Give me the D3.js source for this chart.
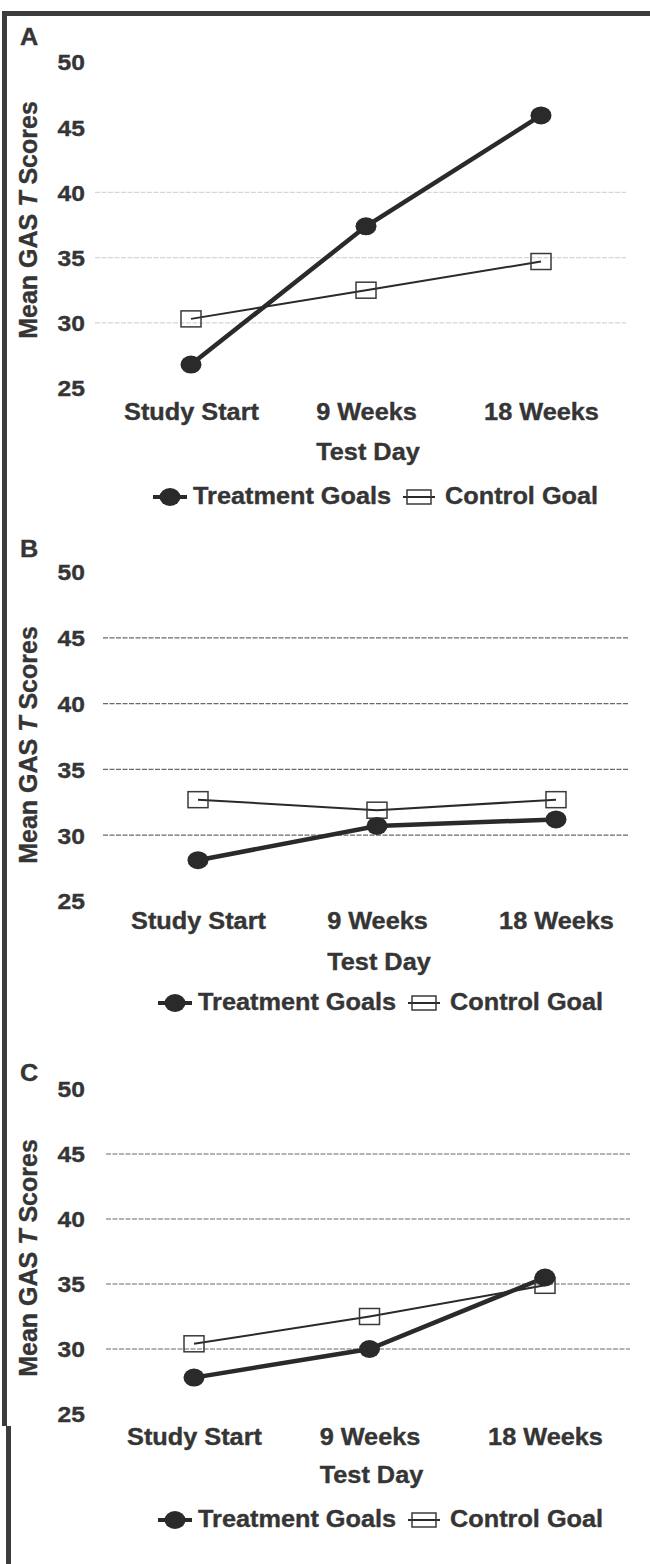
<!DOCTYPE html>
<html>
<head>
<meta charset="utf-8">
<script src="https://cdn.jsdelivr.net/npm/d3@7"></script>
<style>
  html, body { margin: 0; padding: 0; background: #fff; }
  svg { display: block; }
  text { font-family: "Liberation Sans", Arial, Helvetica, sans-serif; font-weight: bold; fill: #353535; stroke: #353535; stroke-width: 0.35px; }
</style>
</head>
<body>
<script>
// ---------------- data ----------------
const categories = ["Study Start", "9 Weeks", "18 Weeks"];
const yTicks = [25, 30, 35, 40, 45, 50];
const gridTicks = [30, 35, 40, 45];
const gridTicksA = [30, 35, 40];
const panelLetters = ["A", "B", "C"];
const seriesNames = ["Treatment Goals", "Control Goal"];
const xTitle = "Test Day";

const treatmentA = [26.8, 37.4, 45.9];
const controlA   = [30.3, 32.5, 34.7];
const treatmentB = [28.1, 30.7, 31.2];
const controlB   = [32.7, 31.9, 32.7];
const treatmentC = [27.8, 30.0, 35.5];
const controlC   = [30.4, 32.5, 34.9];

// ---------------- layout ----------------
const W = 650, H = 1564;
const ink = "#2a2a2a";
const sx = 1.1; // horizontal stretch of the scanned figure

const svg = d3.select("body").append("svg").attr("width", W).attr("height", H);

// frame
svg.append("rect").attr("x", 2).attr("y", 11).attr("width", W - 2).attr("height", 5).attr("fill", "#3c3c3c");
svg.append("rect").attr("x", 2).attr("y", 11).attr("width", 5).attr("height", 1415).attr("fill", "#3c3c3c");
svg.append("rect").attr("x", 6).attr("y", 1426).attr("width", 5).attr("height", H - 1426).attr("fill", "#3c3c3c");

const panels = [
  { letter: panelLetters[0], treat: treatmentA, ctrl: controlA, grid: gridTicksA, gridColor: "#d6d6d6",
    y50: 62, y25: 388, x0: 191, x2: 541, gx: [95, 626], letterY: 45, labY: 420, titY: 460, legY: 504, legX: 153, ytitY: 220 },
  { letter: panelLetters[1], treat: treatmentB, ctrl: controlB, grid: gridTicks, gridColor: "#6a6a6a",
    y50: 572, y25: 901, x0: 198, x2: 556, gx: [103, 628], letterY: 557, labY: 929, titY: 970, legY: 1010, legX: 158, ytitY: 745 },
  { letter: panelLetters[2], treat: treatmentC, ctrl: controlC, grid: gridTicks, gridColor: "#6a6a6a",
    y50: 1089, y25: 1414, x0: 194, x2: 545, gx: [106, 630], letterY: 1081, labY: 1445, titY: 1483, legY: 1527, legX: 158, ytitY: 1258 }
];

function stretchedText(g, x, y, str, size, anchor) {
  return g.append("text")
    .attr("transform", `translate(${x},${y}) scale(${sx},1)`)
    .attr("text-anchor", anchor || "start")
    .style("font-size", size + "px")
    .text(str);
}

panels.forEach(p => {
  const g = svg.append("g");
  const y = d3.scaleLinear().domain([25, 50]).range([p.y25, p.y50]);
  const x = d3.scalePoint().domain(categories).range([p.x0, p.x2]);

  // gridlines
  g.selectAll("line.grid").data(p.grid).join("line")
    .attr("class", "grid")
    .attr("x1", p.gx[0]).attr("x2", p.gx[1])
    .attr("y1", d => y(d)).attr("y2", d => y(d))
    .attr("stroke", p.gridColor).attr("stroke-width", 1.2)
    .attr("stroke-dasharray", "5,1.5");

  // panel letter
  stretchedText(g, 20, p.letterY, p.letter, 23, "start");

  // y axis
  const yAxis = d3.axisLeft(y).tickValues(yTicks).tickSize(0).tickFormat(d3.format("d"));
  const ya = g.append("g").attr("transform", "translate(85,0)").call(yAxis);
  ya.select(".domain").remove();
  ya.selectAll("text")
    .attr("x", 0).attr("dy", "0.36em")
    .attr("transform", "scale(1.12,1)")
    .style("font-size", "22px").attr("fill", null);
  ya.attr("font-family", null).attr("font-size", null);

  // y title
  const yt = g.append("text")
    .attr("transform", `translate(37,${p.ytitY}) rotate(-90)`)
    .attr("text-anchor", "middle")
    .style("font-size", "25px");
  yt.append("tspan").text("Mean GAS ");
  yt.append("tspan").style("font-style", "italic").text("T");
  yt.append("tspan").text(" Scores");

  // x axis labels
  const xAxis = d3.axisBottom(x).tickSize(0);
  const xa = g.append("g").attr("transform", `translate(0,${p.labY})`).call(xAxis);
  xa.select(".domain").remove();
  xa.selectAll("text")
    .attr("y", 0).attr("dy", 0)
    .attr("transform", `scale(${sx},1)`)
    .style("font-size", "23px").attr("fill", null);
  xa.attr("font-family", null).attr("font-size", null);

  // x title
  stretchedText(g, (p.x0 + p.x2) / 2 + 2, p.titY, xTitle, 23, "middle");

  // lines
  const line = d3.line().x((d, i) => x(categories[i])).y(d => y(d));
  g.append("path").datum(p.ctrl).attr("d", line)
    .attr("fill", "none").attr("stroke", ink).attr("stroke-width", 2);
  g.append("path").datum(p.treat).attr("d", line)
    .attr("fill", "none").attr("stroke", ink).attr("stroke-width", 4.5);

  // control markers (open squares)
  g.selectAll("rect.ctrl").data(p.ctrl).join("rect")
    .attr("class", "ctrl")
    .attr("x", (d, i) => x(categories[i]) - 10)
    .attr("y", d => y(d) - 8)
    .attr("width", 20).attr("height", 16)
    .attr("fill", "none").attr("stroke", "#3a3a3a").attr("stroke-width", 1.5);

  // treatment markers (filled dots)
  g.selectAll("ellipse.treat").data(p.treat).join("ellipse")
    .attr("class", "treat")
    .attr("cx", (d, i) => x(categories[i]))
    .attr("cy", d => y(d))
    .attr("rx", 10.5).attr("ry", 9)
    .attr("fill", ink);

  // legend
  const ly = p.legY - 7;
  const L = g.append("g");
  L.append("line").attr("x1", p.legX).attr("x2", p.legX + 34).attr("y1", ly).attr("y2", ly)
    .attr("stroke", ink).attr("stroke-width", 4);
  L.append("ellipse").attr("cx", p.legX + 17).attr("cy", ly).attr("rx", 10.5).attr("ry", 9).attr("fill", ink);
  stretchedText(L, p.legX + 40, p.legY, seriesNames[0], 23, "start");
  const cx0 = p.legX + 250;
  L.append("line").attr("x1", cx0).attr("x2", cx0 + 32).attr("y1", ly).attr("y2", ly)
    .attr("stroke", ink).attr("stroke-width", 2);
  L.append("rect").attr("x", cx0 + 4).attr("y", ly - 7).attr("width", 24).attr("height", 14)
    .attr("fill", "none").attr("stroke", "#3a3a3a").attr("stroke-width", 1.5);
  stretchedText(L, cx0 + 42, p.legY, seriesNames[1], 23, "start");
});
</script>
</body>
</html>
